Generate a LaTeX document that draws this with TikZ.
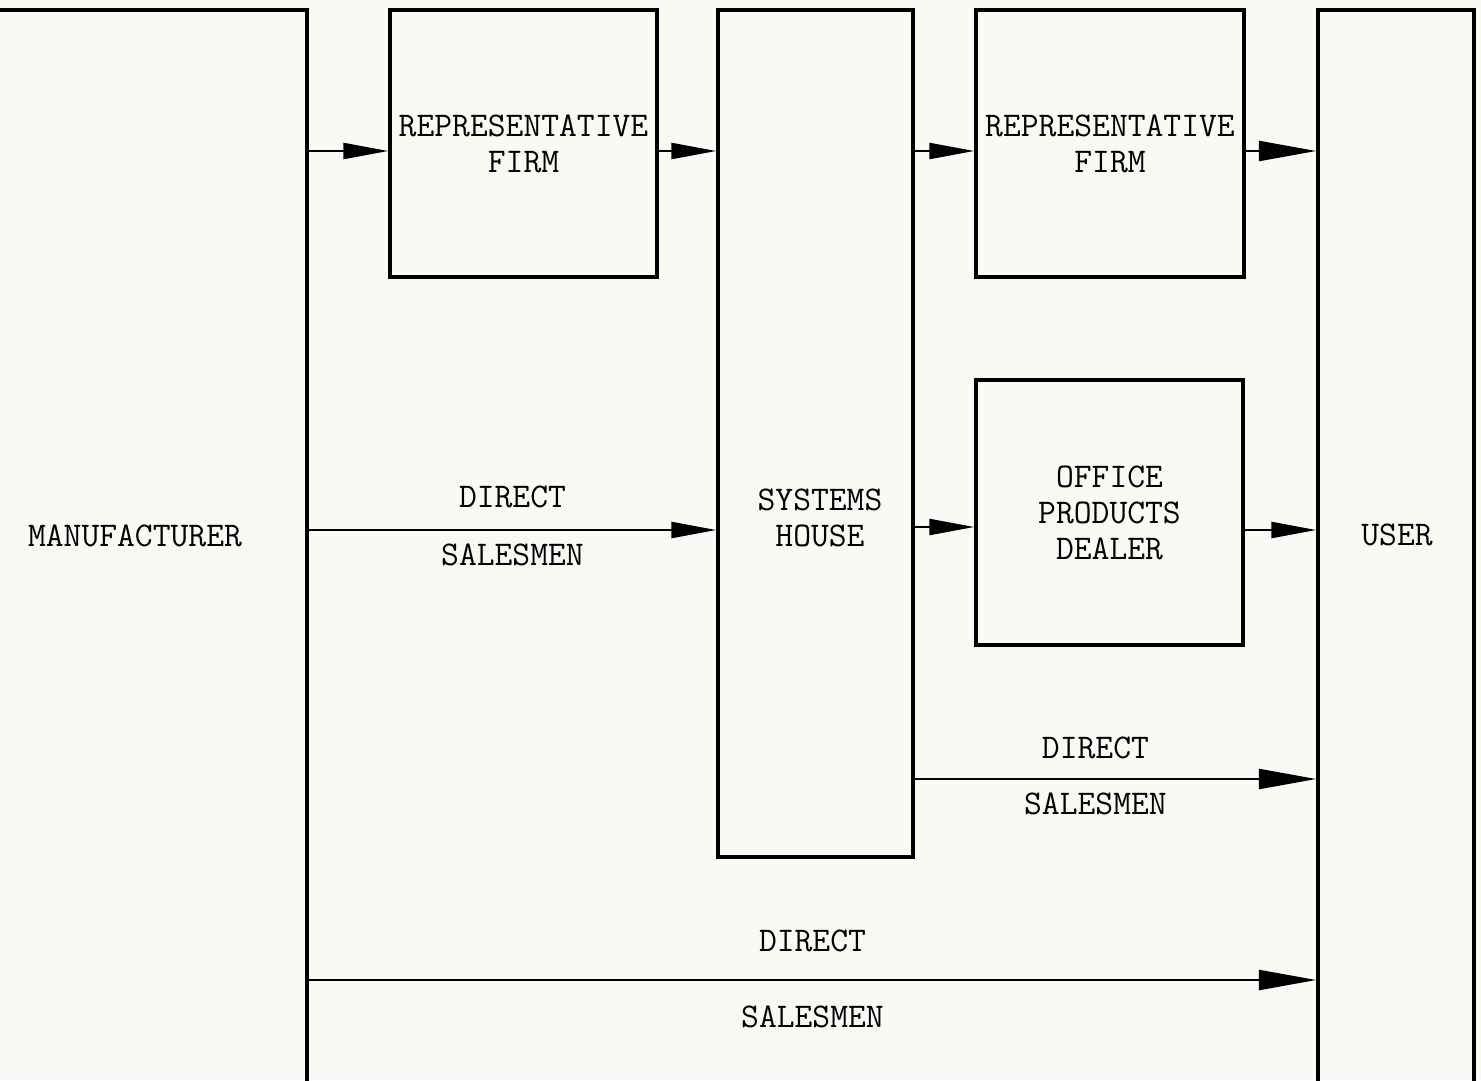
\documentclass[tikz,border=0pt]{standalone}
\usepackage{fontspec}
\usepackage{xcolor}
\usepackage{tikz}
\usetikzlibrary{arrows.meta,positioning,calc}

\definecolor{paper}{RGB}{251,249,246}

\begin{document}
\begin{tikzpicture}[
    x=0.02cm, y=-0.02cm,
    every node/.style={font=\ttfamily\fontsize{19.7}{20.5}\selectfont},
    box/.style={draw, line width=2pt, inner sep=2pt, align=center},
    flow/.style={-{Triangle[length=0.9cm, width=0.32cm]}, line width=1.4pt},
    bigflow/.style={-{Triangle[length=1.15cm, width=0.4cm]}, line width=1.4pt},
    lab/.style={inner sep=0pt, align=center}
]
\useasboundingbox (0,0) rectangle (1481,1080);
\fill[paper] (0,0) rectangle (1481,1080);
\clip (0,0) rectangle (1481,1080);

% boxes
\node[box, minimum width=6.74cm, minimum height=22cm] (manu) at (138.5,560) {};
\node[box, minimum width=5.34cm, minimum height=5.34cm] (rep1) at (523.5,143.5) {REPRESENTATIVE\\FIRM};
\node[box, minimum width=3.9cm, minimum height=16.94cm] (sys) at (815.5,433.5) {};
\node[box, minimum width=5.36cm, minimum height=5.34cm] (rep2) at (1110,143.5) {REPRESENTATIVE\\FIRM};
\node[box, minimum width=5.34cm, minimum height=5.3cm] (office) at (1109.5,512.5) {OFFICE\\PRODUCTS\\DEALER};
\node[box, minimum width=3.12cm, minimum height=22cm] (user) at (1396,560) {};

% texts of the tall boxes
\node[lab] (manutxt) at (135,536) {MANUFACTURER};
\node[lab] (systxt) at (820,518) {SYSTEMS\\HOUSE};
\node[lab] (usertxt) at (1397,535) {USER};

% levels of the connectors
\coordinate (top) at (0,151);
\coordinate (mid) at (0,530);
\coordinate (dealer) at (0,527);
\coordinate (low) at (0,779);
\coordinate (bot) at (0,980);

\draw[flow] (manu.east |- top) -- (rep1.west |- top);
\draw[flow] (rep1.east |- top) -- (sys.west |- top);
\draw[flow] (sys.east |- top) -- (rep2.west |- top);
\draw[bigflow] (rep2.east |- top) -- (user.west |- top);
\draw[flow] (manu.east |- mid) -- node[lab, above=0.42cm] {DIRECT} node[lab, below=0.26cm] {SALESMEN} (sys.west |- mid);
\draw[flow] (sys.east |- dealer) -- (office.west |- dealer);
\draw[flow] (office.east |- mid) -- (user.west |- mid);
\draw[bigflow] (sys.east |- low) -- node[lab, above=0.38cm, pos=0.45] {DIRECT} node[lab, below=0.26cm, pos=0.45] {SALESMEN} (user.west |- low);
\draw[bigflow] (manu.east |- bot) -- node[lab, above=0.54cm] {DIRECT} node[lab, below=0.5cm] {SALESMEN} (user.west |- bot);
\end{tikzpicture}
\end{document}
